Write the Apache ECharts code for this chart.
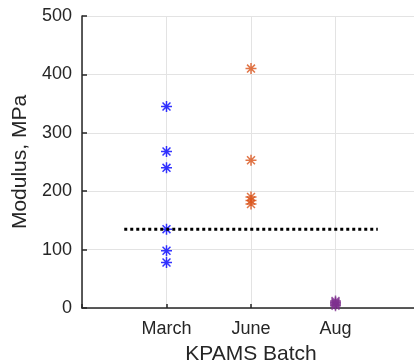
<!DOCTYPE html>
<html>
<head>
<meta charset="utf-8">
<script src="https://cdn.jsdelivr.net/npm/echarts@6/dist/echarts.min.js"></script>
<style>
  html, body { margin: 0; padding: 0; background: #fff; }
  #chart { width: 414px; height: 362px; }
</style>
</head>
<body>
<div id="chart"></div>
<script>
// Batch names on the x axis (positions 1, 2, 3)
const batches = ['March', 'June', 'Aug'];
// Modulus measurements per batch, MPa
const marchValues = [345, 268, 240, 135, 98, 78];
const juneValues = [410, 253, 190, 184, 178];
const augValues = [4, 6, 8, 10, 12];
// Reference level drawn as a dotted line
const referenceLevel = 135;
const referenceSpan = [0.5, 3.5];
// Y axis ticks
const yTicks = [0, 100, 200, 300, 400, 500];

const batchColors = ['#0000ff', '#d95319', '#7e2f8e'];
const asterisk = 'path://M0,-1L0,1M-1,0L1,0M-0.72,-0.72L0.72,0.72M-0.72,0.72L0.72,-0.72';
const textColor = '#262626';
const font = 'Liberation Sans, Arial, sans-serif';

const groups = [marchValues, juneValues, augValues];
const scatterSeries = groups.map((vals, i) => ({
  type: 'scatter',
  name: batches[i],
  data: vals.map(v => [i + 1, v]),
  symbol: asterisk,
  symbolSize: 11,
  itemStyle: { color: 'rgba(0,0,0,0)', borderColor: batchColors[i], borderWidth: 1.5 },
  emphasis: { disabled: true },
  z: 3
}));

const chart = echarts.init(document.getElementById('chart'), null, { renderer: 'canvas' });
chart.setOption({
  animation: false,
  backgroundColor: '#ffffff',
  // the plot box runs a little past the right edge of the canvas
  grid: { left: 82, top: 16, bottom: 54, right: -6, containLabel: false, outerBoundsMode: 'none' },
  xAxis: {
    type: 'value',
    min: 0, max: 4, interval: 1,
    name: 'KPAMS Batch',
    nameLocation: 'middle',
    nameGap: 36,
    nameTextStyle: { color: textColor, fontSize: 21, fontFamily: font },
    axisLine: { show: true, onZero: false, lineStyle: { color: textColor, width: 1.5 } },
    axisTick: { show: true, inside: true, length: 4, lineStyle: { color: textColor, width: 1.5 } },
    axisLabel: {
      color: textColor, fontSize: 18, fontFamily: font, margin: 12,
      formatter: v => (v >= 1 && v <= batches.length) ? batches[v - 1] : ''
    },
    splitLine: { show: true, lineStyle: { color: '#e3e3e3', width: 1 } }
  },
  yAxis: {
    type: 'value',
    min: yTicks[0], max: yTicks[yTicks.length - 1], interval: 100,
    name: 'Modulus, MPa',
    nameLocation: 'middle',
    nameGap: 40,
    nameTextStyle: { color: textColor, fontSize: 21, fontFamily: font },
    axisLine: { show: true, onZero: false, lineStyle: { color: textColor, width: 1.5 } },
    axisTick: { show: true, inside: true, length: 5, lineStyle: { color: textColor, width: 1.5 } },
    axisLabel: { color: textColor, fontSize: 18, fontFamily: font, margin: 10 },
    splitLine: { show: true, lineStyle: { color: '#e3e3e3', width: 1 } }
  },
  series: scatterSeries.concat([{
    type: 'line',
    data: [[referenceSpan[0], referenceLevel], [referenceSpan[1], referenceLevel]],
    symbol: 'none',
    lineStyle: { color: '#000000', width: 3, type: [3, 3], cap: 'butt' },
    emphasis: { disabled: true },
    z: 4
  }])
});
</script>
</body>
</html>
